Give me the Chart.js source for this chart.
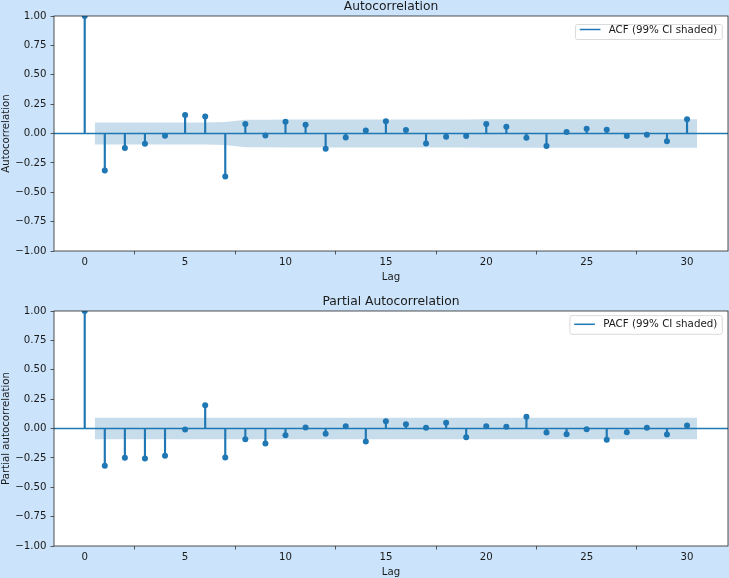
<!DOCTYPE html>
<html>
<head>
<meta charset="utf-8">
<script src="https://cdn.jsdelivr.net/npm/chart.js@4.4.1/dist/chart.umd.min.js"></script>
<style>
  html, body { margin: 0; padding: 0; background: #cce4fb; }
  #wrap { position: relative; width: 729px; height: 578px; overflow: hidden; }
  canvas { position: absolute; left: 0; }
</style>
</head>
<body>
<div id="wrap">
  <canvas id="chart-acf" width="729" height="289" style="top:0;width:729px;height:289px"></canvas>
  <canvas id="chart-pacf" width="729" height="289" style="top:289px;width:729px;height:289px"></canvas>
</div>
<script>
// =========================================================================
// Data
// =========================================================================
const lags = [0, 1, 2, 3, 4, 5, 6, 7, 8, 9, 10, 11, 12, 13, 14, 15,
  16, 17, 18, 19, 20, 21, 22, 23, 24, 25, 26, 27, 28, 29, 30];

const acfValues = [1.0, -0.315, -0.124, -0.088, -0.02, 0.157, 0.145, -0.366,
  0.08, -0.017, 0.1, 0.074, -0.13, -0.034, 0.026, 0.105, 0.029, -0.085,
  -0.028, -0.022, 0.08, 0.057, -0.037, -0.107, 0.012, 0.04, 0.031, -0.022,
  -0.011, -0.065, 0.122];

const pacfValues = [1.0, -0.317, -0.249, -0.255, -0.232, -0.009, 0.198,
  -0.247, -0.091, -0.128, -0.057, 0.009, -0.045, 0.02, -0.11, 0.062, 0.037,
  0.006, 0.048, -0.074, 0.02, 0.014, 0.1, -0.034, -0.048, -0.006, -0.096,
  -0.031, 0.006, -0.051, 0.026];

// CI band: lag 1 drawn from 0.5, lag 30 drawn to 30.5
const bandLags = [0.5, 2, 3, 4, 5, 6, 7, 8, 9, 10, 11, 12, 13, 14, 15, 16,
  17, 18, 19, 20, 21, 22, 23, 24, 25, 26, 27, 28, 29, 30.5];

const acfBandHalf = [0.094, 0.094, 0.094, 0.094, 0.094, 0.094, 0.097, 0.118,
  0.118, 0.119, 0.119, 0.119, 0.12, 0.12, 0.12, 0.12, 0.12, 0.12, 0.12,
  0.121, 0.121, 0.121, 0.121, 0.121, 0.121, 0.121, 0.121, 0.121, 0.121, 0.121];

const pacfBandHalf = [0.092, 0.092, 0.092, 0.092, 0.092, 0.092, 0.092, 0.092,
  0.092, 0.092, 0.092, 0.092, 0.092, 0.092, 0.092, 0.092, 0.092, 0.092,
  0.092, 0.092, 0.092, 0.092, 0.092, 0.092, 0.092, 0.092, 0.092, 0.092,
  0.092, 0.092];

const xTicks = [0, 5, 10, 15, 20, 25, 30];
const yTicks = [-1, -0.75, -0.5, -0.25, 0, 0.25, 0.5, 0.75, 1];
const xRange = [-1.53, 32.04];

// =========================================================================
// Styling
// =========================================================================
const C0 = "#1f77b4";
const BAND = "rgba(31, 119, 180, 0.25)";
const FONT = "'DejaVu Sans', sans-serif";
const TEXT = "#1a1a1a";

// Axes background, full frame, title and legend box
const decorPlugin = {
  id: "decor",
  beforeDraw(chart) {
    const { ctx, chartArea: a } = chart;
    ctx.save();
    ctx.fillStyle = "#ffffff";
    ctx.fillRect(a.left, a.top, a.right - a.left, a.bottom - a.top);
    ctx.restore();
  },
  afterDraw(chart, args, opts) {
    const { ctx, chartArea: a } = chart;
    ctx.save();
    ctx.strokeStyle = "#262626";
    ctx.lineWidth = 0.8;
    ctx.strokeRect(a.left, a.top, a.right - a.left, a.bottom - a.top);

    // title
    ctx.fillStyle = TEXT;
    ctx.font = `12.3px ${FONT}`;
    ctx.textAlign = "center";
    ctx.textBaseline = "alphabetic";
    ctx.fillText(opts.title, (a.left + a.right) / 2, a.top - 6);

    // legend
    const lg = opts.legend;
    ctx.font = `10.3px ${FONT}`;
    const tw = ctx.measureText(opts.legendLabel).width;
    const w = 4.3 + 20.7 + 8.3 + tw + 5;
    const right = a.right - lg.right;
    const left = right - w;
    const top = a.top + lg.top;
    ctx.beginPath();
    ctx.roundRect(left, top, w, lg.height, 2);
    ctx.fillStyle = "rgba(255,255,255,0.8)";
    ctx.fill();
    ctx.strokeStyle = "#d0d0d0";
    ctx.lineWidth = 0.8;
    ctx.stroke();
    const cy = top + lg.lineY;
    ctx.beginPath();
    ctx.moveTo(left + 4.3, cy);
    ctx.lineTo(left + 25, cy);
    ctx.strokeStyle = C0;
    ctx.lineWidth = 1.5;
    ctx.stroke();
    ctx.fillStyle = TEXT;
    ctx.textAlign = "left";
    ctx.textBaseline = "middle";
    ctx.fillText(opts.legendLabel, left + 33.3, cy + 0.5);
    ctx.restore();
  },
};

// =========================================================================
// Chart builder
// =========================================================================
function buildCorrChart(canvasId, cfg) {
  const bandUpper = bandLags.map((x, i) => ({ x, y: cfg.bandHalf[i] }));
  const bandLower = bandLags.map((x, i) => ({ x, y: -cfg.bandHalf[i] }));
  const points = lags.map((lag, i) => ({ x: lag, y: cfg.values[i] }));
  const zeroLine = xRange.map((x) => ({ x, y: 0 }));

  return new Chart(document.getElementById(canvasId), {
    type: "scatter",
    data: {
      datasets: [
        {
          type: "line",
          data: bandUpper,
          showLine: true,
          fill: "+1",
          backgroundColor: BAND,
          borderColor: "rgba(0,0,0,0)",
          borderWidth: 0,
          pointRadius: 0,
          order: 4,
        },
        {
          type: "line",
          data: bandLower,
          showLine: true,
          fill: false,
          borderColor: "rgba(0,0,0,0)",
          borderWidth: 0,
          pointRadius: 0,
          order: 4,
        },
        {
          type: "line",
          data: zeroLine,
          showLine: true,
          fill: false,
          borderColor: C0,
          borderWidth: 1.5,
          pointRadius: 0,
          order: 3,
        },
        {
          type: "bar",
          data: points,
          backgroundColor: C0,
          barThickness: 1.5,
          order: 2,
        },
        {
          type: "scatter",
          data: points,
          pointRadius: 3,
          pointBackgroundColor: C0,
          pointBorderWidth: 0,
          order: 1,
        },
      ],
    },
    options: {
      responsive: false,
      animation: false,
      events: [],
      layout: {
        autoPadding: false,
        padding: { top: cfg.padTop, left: 0, right: 1, bottom: 0 },
      },
      plugins: {
        legend: { display: false },
        tooltip: { enabled: false },
        decor: {
          title: cfg.title,
          legendLabel: cfg.legendLabel,
          legend: cfg.legend,
        },
      },
      scales: {
        x: {
          type: "linear",
          min: xRange[0],
          max: xRange[1],
          offset: false,
          afterBuildTicks: (s) => { s.ticks = xTicks.map((v) => ({ value: v })); },
          afterFit: (s) => {
            s.height = cfg.xAxisHeight;
            s.paddingLeft = 0;
            s.paddingRight = 0;
          },
          grid: { drawOnChartArea: false, tickLength: 3.5, color: "#333", tickWidth: 0.8 },
          border: { display: false },
          ticks: {
            padding: 2,
            color: TEXT,
            font: { family: FONT, size: 10.2 },
            maxRotation: 0,
            callback: (v) => String(v),
          },
          title: {
            display: true,
            text: "Lag",
            color: TEXT,
            font: { family: FONT, size: 10.2 },
            padding: { top: 0, bottom: cfg.lagPad },
          },
        },
        y: {
          type: "linear",
          min: -1,
          max: 1,
          afterBuildTicks: (s) => { s.ticks = yTicks.map((v) => ({ value: v })); },
          afterFit: (s) => { s.width = 54; },
          grid: { drawOnChartArea: false, tickLength: 3.5, color: "#333", tickWidth: 0.8 },
          border: { display: false },
          ticks: {
            padding: 4,
            color: TEXT,
            font: { family: FONT, size: 10.2 },
            callback: (v) => v.toFixed(2).replace("-", "\u2212"),
          },
          title: {
            display: true,
            text: cfg.yLabel,
            color: TEXT,
            font: { family: FONT, size: 10.2 },
            padding: { top: 0, bottom: 0 },
          },
        },
      },
    },
    plugins: [decorPlugin],
  });
}

buildCorrChart("chart-acf", {
  values: acfValues,
  bandHalf: acfBandHalf,
  title: "Autocorrelation",
  yLabel: "Autocorrelation",
  legendLabel: "ACF (99% CI shaded)",
  padTop: 16,
  xAxisHeight: 38,
  lagPad: 6,
  legend: { right: 5.7, top: 8.5, height: 15, lineY: 5 },
});

buildCorrChart("chart-pacf", {
  values: pacfValues,
  bandHalf: pacfBandHalf,
  title: "Partial Autocorrelation",
  yLabel: "Partial autocorrelation",
  legendLabel: "PACF (99% CI shaded)",
  padTop: 22,
  xAxisHeight: 32,
  lagPad: 0,
  legend: { right: 5.7, top: 4.6, height: 18.7, lineY: 8.7 },
});
</script>
</body>
</html>
